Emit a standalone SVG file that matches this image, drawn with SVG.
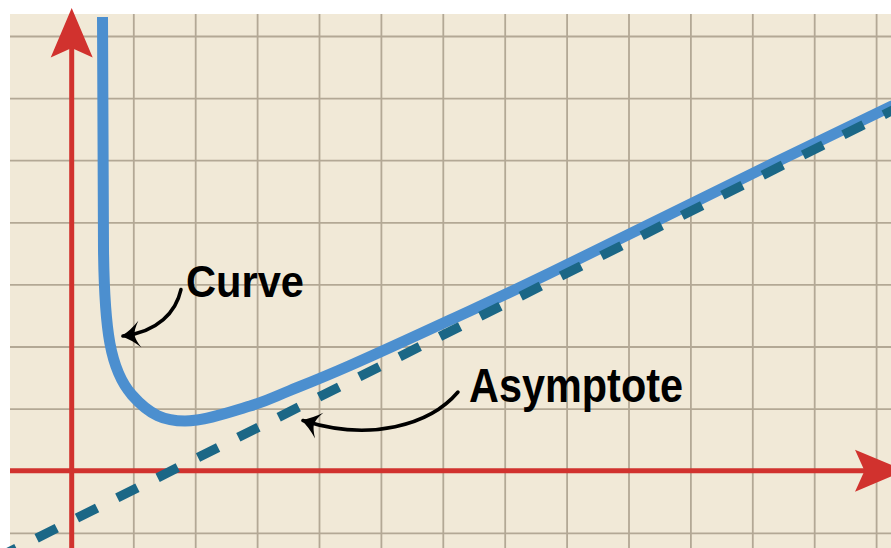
<svg xmlns="http://www.w3.org/2000/svg" width="891" height="548" viewBox="0 0 891 548">
  <defs>
    <style>
      .grid line { stroke: #b3a895; stroke-width: 1.8; }
      .axis { stroke: #d1322e; stroke-width: 5; fill: none; }
      .axis-head { fill: #d1322e; }
      .curve { stroke: #4c8fcf; stroke-width: 11; fill: none; stroke-linejoin: round; }
      .asym { stroke: #1b6786; stroke-width: 9.5; fill: none; stroke-dasharray: 22.5 22.6; stroke-dashoffset: 4.15; }
      .callout { stroke: #000; stroke-width: 3.5; fill: none; stroke-linecap: round; marker-end: url(#barb); }
      .label { font-family: "Liberation Sans", Arial, sans-serif; font-weight: bold; fill: #000; }
    </style>
    <marker id="barb" markerUnits="userSpaceOnUse" orient="auto" refX="0" refY="0" markerWidth="40" markerHeight="40" viewBox="-20 -20 40 40" overflow="visible">
      <path d="M2,0 Q-8,-4.5 -17,-13.5 Q-12,-5.5 -11.5,0 Q-12,5.5 -17,13.5 Q-8,4.5 2,0 Z" fill="#000"/>
    </marker>
  </defs>

  <rect x="0" y="0" width="891" height="548" fill="#ffffff"/>
  <rect x="10" y="14" width="881" height="534" fill="#f1e9d7"/>

  <g id="grid" class="grid">
    <line x1="133.8" y1="14" x2="133.8" y2="548"/>
    <line x1="195.7" y1="14" x2="195.7" y2="548"/>
    <line x1="257.6" y1="14" x2="257.6" y2="548"/>
    <line x1="319.5" y1="14" x2="319.5" y2="548"/>
    <line x1="381.4" y1="14" x2="381.4" y2="548"/>
    <line x1="443.3" y1="14" x2="443.3" y2="548"/>
    <line x1="505.2" y1="14" x2="505.2" y2="548"/>
    <line x1="567.1" y1="14" x2="567.1" y2="548"/>
    <line x1="629" y1="14" x2="629" y2="548"/>
    <line x1="690.9" y1="14" x2="690.9" y2="548"/>
    <line x1="752.8" y1="14" x2="752.8" y2="548"/>
    <line x1="814.7" y1="14" x2="814.7" y2="548"/>
    <line x1="876.6" y1="14" x2="876.6" y2="548"/>
    <line x1="10" y1="36.5" x2="891" y2="36.5"/>
    <line x1="10" y1="98.6" x2="891" y2="98.6"/>
    <line x1="10" y1="160.7" x2="891" y2="160.7"/>
    <line x1="10" y1="222.8" x2="891" y2="222.8"/>
    <line x1="10" y1="284.9" x2="891" y2="284.9"/>
    <line x1="10" y1="347" x2="891" y2="347"/>
    <line x1="10" y1="409.1" x2="891" y2="409.1"/>
    <line x1="10" y1="533.3" x2="891" y2="533.3"/>
  </g>

  <g id="axes">
    <line class="axis" x1="71.7" y1="45" x2="71.7" y2="548"/>
    <path class="axis-head" d="M71.7,8 L92.7,57.5 L71.7,48 L50.7,57.5 Z"/>
    <line class="axis" x1="10" y1="470.7" x2="868" y2="470.7"/>
    <path class="axis-head" d="M905,470.7 L855,449.7 L864.5,470.7 L855,491.7 Z"/>
  </g>

  <g id="curve">
    <path class="curve" d="M102.5,17 L103.5,250 C104.5,330 110,370 132,395 C150,415.5 165,421 185,421 C205,421 232.5,411.1 250,406 C267.5,400.9 273.3,397.25 290,390.5 C306.7,383.75 323.3,377.25 350,365.5 C376.7,353.75 416.7,335.4 450,320 C483.3,304.6 496.2,299.1 550,273 C603.8,246.9 716.2,191.25 773,163.5 C829.8,136 861.5,120.6 891,106.5 L900,102.2"/>
  </g>

  <g id="asymptote">
    <path class="asym" d="M0,556.5 L900,106.5"/>
  </g>

  <g id="connectors">
    <path class="callout" d="M181,289.5 C176,312 158,332 123,336"/>
    <path class="callout" d="M458,392 C430,425 370,442 303,420.5"/>
  </g>

  <g id="label-curve">
    <text class="label" x="186" y="296.5" font-size="44" textLength="118" lengthAdjust="spacingAndGlyphs">Curve</text>
  </g>

  <g id="label-asymptote">
    <text class="label" x="469" y="401.8" font-size="48" textLength="214" lengthAdjust="spacingAndGlyphs">Asymptote</text>
  </g>
</svg>
